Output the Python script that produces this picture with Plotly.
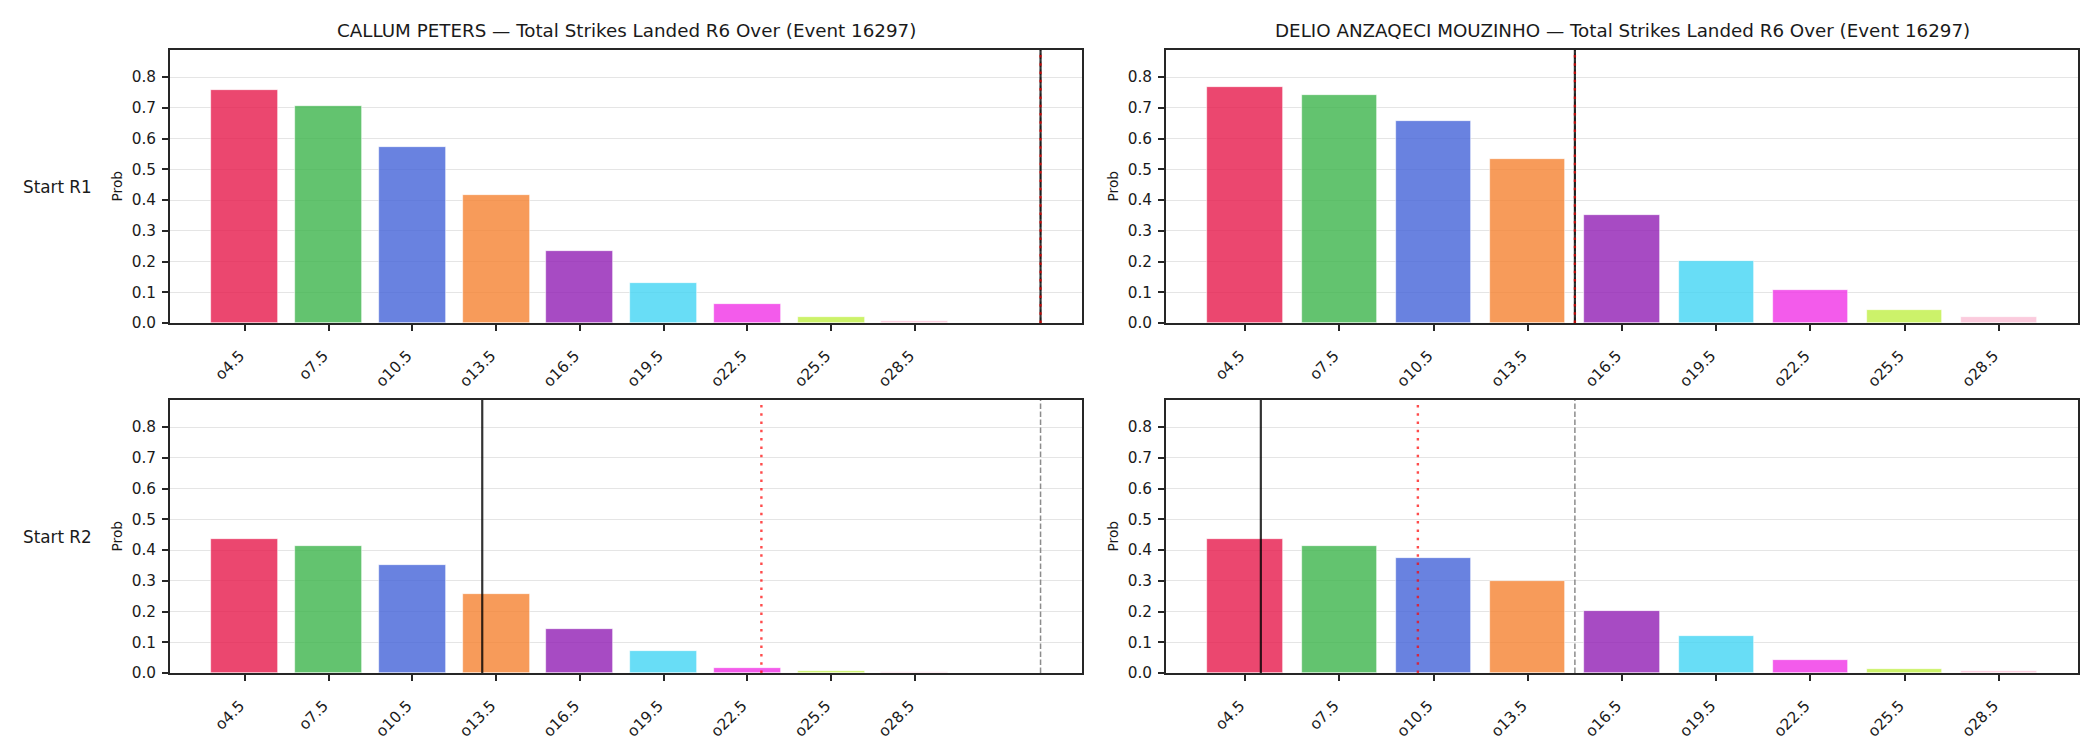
import plotly.graph_objects as go

# ---------------- data ----------------
categories = ["o4.5", "o7.5", "o10.5", "o13.5", "o16.5", "o19.5", "o22.5", "o25.5", "o28.5"]
thresholds = [4.5, 7.5, 10.5, 13.5, 16.5, 19.5, 22.5, 25.5, 28.5]

fighters = ["CALLUM PETERS", "DELIO ANZAQECI MOUZINHO"]
rows = ["Start R1", "Start R2"]

peters_r1 = [0.758, 0.706, 0.572, 0.416, 0.235, 0.130, 0.062, 0.020, 0.006]
peters_r2 = [0.436, 0.413, 0.352, 0.258, 0.143, 0.071, 0.016, 0.005, 0.004]
delio_r1 = [0.767, 0.741, 0.657, 0.533, 0.351, 0.201, 0.106, 0.041, 0.018]
delio_r2 = [0.436, 0.413, 0.374, 0.299, 0.202, 0.120, 0.041, 0.012, 0.005]

# reference lines (strike counts): solid black, dotted red, dashed gray
peters_r1_lines = [33, 33, 33]
peters_r2_lines = [13, 23, 33]
delio_r1_lines = [15, 15, 15]
delio_r2_lines = [5, 10, 15]

y_max = 0.888
y_ticks = [0.0, 0.1, 0.2, 0.3, 0.4, 0.5, 0.6, 0.7, 0.8]

bar_colors = ["#e6194b", "#3cb44b", "#4363d8", "#f58231", "#911eb4",
              "#42d4f4", "#f032e6", "#bfef45", "#fabed4"]

# ---------------- layout helpers ----------------
W, H = 2100, 750
FONT = "DejaVu Sans"
SPINE = "#262626"
TXT = "#1a1a1a"


def rgba(hexc, a):
    h = hexc.lstrip("#")
    return "rgba(%d,%d,%d,%.2f)" % (int(h[0:2], 16), int(h[2:4], 16), int(h[4:6], 16), a)


def to_idx(v):
    step = thresholds[1] - thresholds[0]
    return (v - thresholds[0]) / step


panels = [
    # (values, lines, col, row)
    (peters_r1, peters_r1_lines, 0, 0),
    (delio_r1, delio_r1_lines, 1, 0),
    (peters_r2, peters_r2_lines, 0, 1),
    (delio_r2, delio_r2_lines, 1, 1),
]

col_px = [(170, 1082), (1166, 2078)]
row_px = [(50, 323), (400, 673)]

# x-range per column, matplotlib-like 5% margins around bars and lines
col_ranges = []
for c in range(2):
    lo, hi = -0.4, len(categories) - 1 + 0.4
    for vals, lines, cc, rr in panels:
        if cc == c:
            for v in lines:
                lo = min(lo, to_idx(v))
                hi = max(hi, to_idx(v))
    m = (hi - lo) * 0.05
    col_ranges.append([lo - m, hi + m])

fig = go.Figure()
shapes = []
x_idx = list(range(len(categories)))

for i, (vals, lines, c, r) in enumerate(panels):
    n = "" if i == 0 else str(i + 1)
    xa, ya = "x" + n, "y" + n
    fig.add_trace(go.Bar(
        x=x_idx, y=vals, xaxis=xa, yaxis=ya, width=0.8,
        marker=dict(color=[rgba(cc, 0.8) for cc in bar_colors],
                    line=dict(color="rgba(255,255,255,0.8)", width=0.7)),
        showlegend=False, hoverinfo="skip",
    ))
    x0p, x1p = col_px[c]
    y0p, y1p = row_px[r]
    fig.layout["xaxis" + n] = dict(
        domain=[x0p / W, x1p / W], anchor=ya, range=col_ranges[c],
        tickmode="array", tickvals=x_idx, ticktext=categories, tickangle=-45,
        ticks="outside", ticklen=6, tickwidth=1.5, tickcolor=SPINE,
        ticklabelstandoff=10, ticklabelshift=-5, automargin=False,
        showline=True, linecolor=SPINE, linewidth=1.7, mirror=True,
        showgrid=False, zeroline=False,
        tickfont=dict(family=FONT, size=15.3, color=TXT),
    )
    fig.layout["yaxis" + n] = dict(
        domain=[1 - y1p / H, 1 - y0p / H], anchor=xa, range=[0, y_max],
        tickmode="array", tickvals=y_ticks, tickformat=".1f",
        ticks="outside", ticklen=6, tickwidth=1.5, tickcolor=SPINE,
        ticklabelstandoff=3, automargin=False,
        showline=True, linecolor=SPINE, linewidth=1.7, mirror=True,
        showgrid=True, gridcolor="#e5e5e5", gridwidth=1, zeroline=False,
        tickfont=dict(family=FONT, size=15.3, color=TXT),
    )
    solid_v, dot_v, dash_v = lines
    yref = ya + " domain"
    shapes.append(dict(type="line", xref=xa, yref=yref, x0=to_idx(dash_v), x1=to_idx(dash_v),
                       y0=0, y1=1, layer="above",
                       line=dict(color="rgba(128,128,128,0.9)", width=1.5, dash="5.5px,2.5px")))
    shapes.append(dict(type="line", xref=xa, yref=yref, x0=to_idx(solid_v), x1=to_idx(solid_v),
                       y0=0, y1=1, layer="above",
                       line=dict(color="rgba(0,0,0,0.8)", width=2.2)))
    shapes.append(dict(type="line", xref=xa, yref=yref, x0=to_idx(dot_v), x1=to_idx(dot_v),
                       y0=0, y1=1, layer="above",
                       line=dict(color="rgba(255,0,0,0.7)", width=2.4, dash="2.5px,5.8px")))

annotations = []
# titles
for c, name in enumerate(fighters):
    x0p, x1p = col_px[c]
    annotations.append(dict(
        text=f"{name} — Total Strikes Landed R6 Over (Event 16297)",
        x=(x0p + x1p) / 2 / W, y=1 - 30 / H, xref="paper", yref="paper",
        xanchor="center", yanchor="middle", showarrow=False,
        font=dict(family=FONT, size=18.3, color=TXT),
    ))
# row labels and y-axis titles
for r, lab in enumerate(rows):
    y0p, y1p = row_px[r]
    yc = (y0p + y1p) / 2
    annotations.append(dict(
        text=lab, x=21 / W, y=1 - yc / H, xref="paper", yref="paper",
        xanchor="left", yanchor="middle", showarrow=False,
        font=dict(family=FONT, size=16.8, color=TXT),
    ))
    for c in range(2):
        xp = 116 if c == 0 else 1112
        annotations.append(dict(
            text="Prob", x=xp / W, y=1 - yc / H, xref="paper", yref="paper",
            xanchor="center", yanchor="middle", showarrow=False, textangle=-90,
            font=dict(family=FONT, size=13.75, color=TXT),
        ))

fig.update_layout(
    width=W, height=H, margin=dict(l=0, r=0, t=0, b=0, autoexpand=False),
    paper_bgcolor="white", plot_bgcolor="white",
    shapes=shapes, annotations=annotations, bargap=0,
    font=dict(family=FONT, color=TXT),
)

fig.write_html("out.html")
